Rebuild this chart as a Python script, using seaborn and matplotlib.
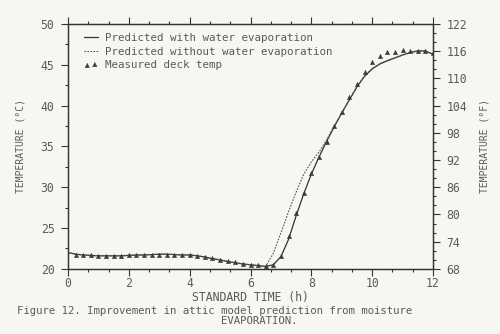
import numpy as np
import pandas as pd
import matplotlib
matplotlib.use("Agg")
import matplotlib.pyplot as plt
import seaborn as sns
from matplotlib.ticker import MultipleLocator

# ---- data ----
time_pred = [0, 0.25, 0.5, 0.75, 1.0, 1.25, 1.5, 1.75, 2.0, 2.25, 2.5, 2.75,
             3.0, 3.25, 3.5, 3.75, 4.0, 4.25, 4.5, 4.75, 5.0, 5.25, 5.5, 5.75,
             6.0, 6.25, 6.5, 6.75, 7.0, 7.25, 7.5, 7.75, 8.0, 8.25, 8.5, 8.75,
             9.0, 9.25, 9.5, 9.75, 10.0, 10.25, 10.5, 10.75, 11.0, 11.25, 11.5,
             11.75, 12.0]
with_evap = [22.0, 21.8, 21.7, 21.65, 21.6, 21.6, 21.6, 21.6, 21.65, 21.7, 21.7,
             21.75, 21.8, 21.8, 21.75, 21.7, 21.7, 21.6, 21.45, 21.25, 21.1, 20.9,
             20.75, 20.6, 20.5, 20.4, 20.3, 20.5, 21.5, 23.6, 26.5, 29.2, 31.6,
             33.7, 35.6, 37.4, 39.1, 40.7, 42.3, 43.6, 44.5, 45.1, 45.5, 45.85,
             46.2, 46.5, 46.7, 46.7, 46.3]
without_evap = [22.0, 21.8, 21.7, 21.65, 21.6, 21.6, 21.6, 21.6, 21.65, 21.7, 21.7,
                21.75, 21.8, 21.8, 21.75, 21.7, 21.7, 21.6, 21.45, 21.25, 21.1, 20.9,
                20.75, 20.6, 20.5, 20.4, 20.3, 21.9, 24.4, 27.0, 29.4, 31.6, 33.1,
                34.3, 35.8, 37.5, 39.15, 40.75, 42.35, 43.65, 44.55, 45.15, 45.55,
                45.9, 46.25, 46.55, 46.72, 46.7, 46.3]
time_meas = [0.25, 0.5, 0.75, 1.0, 1.25, 1.5, 1.75, 2.0, 2.25, 2.5, 2.75, 3.0,
             3.25, 3.5, 3.75, 4.0, 4.25, 4.5, 4.75, 5.0, 5.25, 5.5, 5.75, 6.0,
             6.25, 6.5, 6.75, 7.0, 7.25, 7.5, 7.75, 8.0, 8.25, 8.5, 8.75, 9.0,
             9.25, 9.5, 9.75, 10.0, 10.25, 10.5, 10.75, 11.0, 11.25, 11.5, 11.75,
             12.0]
measured = [21.7, 21.65, 21.65, 21.6, 21.6, 21.55, 21.6, 21.65, 21.65, 21.7, 21.7,
            21.75, 21.75, 21.7, 21.65, 21.65, 21.6, 21.5, 21.3, 21.1, 20.95, 20.8,
            20.6, 20.5, 20.45, 20.35, 20.45, 21.6, 24.0, 26.8, 29.3, 31.8, 33.7,
            35.5, 37.5, 39.25, 41.0, 42.7, 44.1, 45.3, 46.1, 46.6, 46.6, 46.8,
            46.65, 46.7, 46.7, 46.5]

xticks = [0, 2, 4, 6, 8, 10, 12]
yticks_c = [20, 25, 30, 35, 40, 45, 50]
yticks_f = [68, 74, 80, 86, 92, 98, 104, 110, 116, 122]

labels = ["Predicted with water evaporation",
          "Predicted without water evaporation",
          "Measured deck temp"]

pred_df = pd.DataFrame({"time": time_pred, "with": with_evap, "without": without_evap})
meas_df = pd.DataFrame({"time": time_meas, "temp": measured})

# ---- style ----
sns.set_style("ticks")
BG = "#f6f6f3"
TXT = "#5a5a5a"
LINE = "#333333"
plt.rcParams["font.family"] = ["DejaVu Sans Mono", "DejaVu Sans"]

fig = plt.figure(figsize=(5.0, 3.34), dpi=100, facecolor=BG)
ax = fig.add_axes([0.136, 0.195, 0.73, 0.733])
ax.set_facecolor(BG)

sns.lineplot(data=pred_df, x="time", y="with", ax=ax, color=LINE, lw=0.9,
             label=labels[0])
sns.lineplot(data=pred_df, x="time", y="without", ax=ax, color="#555555", lw=0.8,
             linestyle=(0, (1.5, 1.2)), label=labels[1])
sns.scatterplot(data=meas_df, x="time", y="temp", ax=ax, marker="^", s=10,
                color="#3a3a3a", edgecolor="#3a3a3a", linewidth=0.3,
                label=labels[2], zorder=5)

ax.set_xlim(0, 12)
ax.set_ylim(20, 50)
ax.set_xticks(xticks)
ax.set_yticks(yticks_c)
ax.xaxis.set_minor_locator(MultipleLocator(2 / 3))
ax.yaxis.set_minor_locator(MultipleLocator(2.5))
ax.tick_params(which="both", direction="out", top=True, color=LINE, width=0.8,
               labelcolor=TXT, labelsize=8.3)
ax.tick_params(axis="y", which="both", pad=5)
ax.tick_params(axis="x", which="both", pad=1)
ax.tick_params(which="major", length=4.8)
ax.tick_params(which="minor", length=2.4)
for s in ax.spines.values():
    s.set_color(LINE)
    s.set_linewidth(0.9)

ax.set_xlabel("STANDARD TIME (h)", color=TXT, fontsize=8.3, labelpad=1)
ax.set_ylabel("TEMPERATURE (°C)", color=TXT, fontsize=7.0, labelpad=11)

ax2 = ax.twinx()
ax2.set_ylim(68, 122)
ax2.set_yticks(yticks_f)
ax2.yaxis.set_minor_locator(MultipleLocator(2))
ax2.tick_params(which="both", direction="out", color=LINE, width=0.8,
                labelcolor=TXT, labelsize=8.3, pad=5)
ax2.tick_params(which="major", length=4.8)
ax2.tick_params(which="minor", length=2.4)
for s in ax2.spines.values():
    s.set_color(LINE)
    s.set_linewidth(0.9)
ax2.set_ylabel("TEMPERATURE (°F)", color=TXT, fontsize=7.0, labelpad=9)

leg = ax.legend(loc="upper left", bbox_to_anchor=(0.032, 0.982), frameon=False,
                fontsize=7.8, handlelength=1.3, handletextpad=0.65,
                labelspacing=0.35, borderaxespad=0, scatterpoints=2,
                labelcolor=TXT)

fig.text(0.034, 0.068, "Figure 12. Improvement in attic model prediction from moisture",
         color=TXT, fontsize=7.7, ha="left", va="center")
fig.text(0.443, 0.038, "EVAPORATION.", color=TXT, fontsize=7.7, ha="left",
         va="center")

fig.savefig("out.png", dpi=100, facecolor=BG)
